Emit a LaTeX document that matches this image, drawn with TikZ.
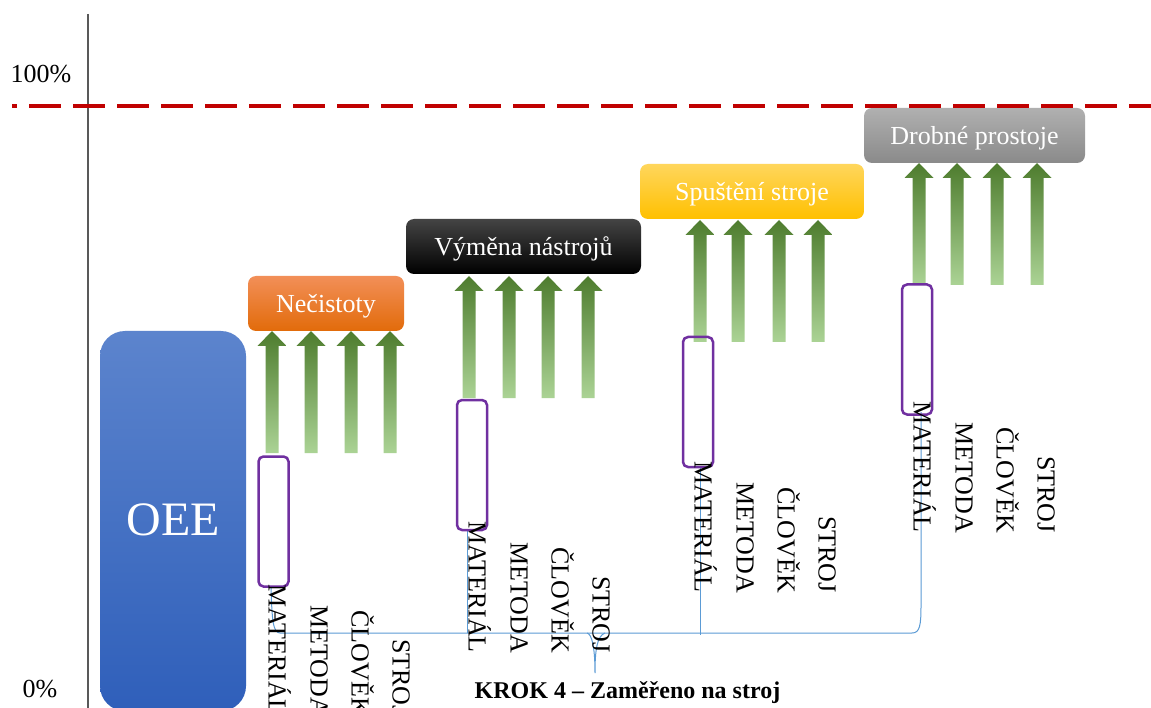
\documentclass[tikz,border=0pt]{standalone}
\usepackage{fontspec}
\setmainfont{Liberation Serif}
\definecolor{axisgray}{HTML}{595959}
\definecolor{limitred}{HTML}{C00000}
\definecolor{purp}{HTML}{7030A0}
\definecolor{linkblue}{HTML}{5B9BD5}
\definecolor{gdark}{HTML}{4E7C2E}
\definecolor{gmid}{HTML}{76AE4B}
\definecolor{glight}{HTML}{ABD395}
\definecolor{oeetop}{HTML}{5C84CD}
\definecolor{oeebot}{HTML}{2F5FBA}
\definecolor{orgtop}{HTML}{F28F58}
\definecolor{orgbot}{HTML}{E26B0A}
\definecolor{blktop}{HTML}{444444}
\definecolor{yeltop}{HTML}{FFD65C}
\definecolor{yelbot}{HTML}{FFC000}
\definecolor{grytop}{HTML}{B0B0B0}
\definecolor{grybot}{HTML}{8A8A8A}
\begin{document}
\begin{tikzpicture}[x=1pt,y=-1pt,
  lbl/.style={font=\fontsize{26}{30}\selectfont, inner sep=0pt},
  catbox/.style={rounded corners=8pt, minimum height=55pt, inner sep=0pt, text=white,
    font=\fontsize{26}{30}\selectfont, text height=25pt, text depth=6pt},
  vlab/.style={rotate=-90, anchor=east, inner sep=0pt, font=\fontsize{26}{30}\selectfont,
    text height=17pt, text depth=0pt},
  focus/.style={draw=purp, line width=2.5pt, rounded corners=5pt, minimum width=30pt,
    minimum height=130pt, inner sep=0pt},
  link/.style={draw=linkblue, line width=1pt},
  axisline/.style={draw=axisgray, line width=1.5pt},
  limitline/.style={draw=limitred, line width=4pt, dash pattern=on 32pt off 12pt, dash phase=27pt},
  upshaft/.pic={\shade[top color=gdark, middle color=gmid, bottom color=glight]
    (0,0) -- (14.5,15) -- (6.5,15) -- (6.5,122) -- (-6.5,122) -- (-6.5,15) -- (-14.5,15) -- cycle;}
]
\fill[white] (0,0) rectangle (1151,708);
\useasboundingbox (0,0) rectangle (1151,708);

% axis and 100% line
\coordinate (axtop) at (88,14);
\coordinate (axbot) at (88,710);
\draw[axisline] (axtop) -- (axbot);
\node[lbl, anchor=base] (p100) at (41,83) {100\%};
\node[lbl, anchor=base] (p0) at (40,697) {0\%};

% OEE column
\node[rounded corners=25pt, minimum width=146pt, minimum height=380pt, inner sep=0pt,
  top color=oeetop, bottom color=oeebot, text=white, font=\fontsize{48}{52}\selectfont,
  text height=28pt, text depth=0pt] (oee) at (173,521) {OEE};

% blue connector line
\coordinate (l1) at (271,588);
\coordinate (l2) at (921,412);
\coordinate (v2a) at (467,531);
\coordinate (v2b) at (467,633);
\coordinate (v3a) at (700,467);
\coordinate (v3b) at (700,635);
\coordinate (sp1) at (587,633);
\coordinate (sp2) at (595,673);
\coordinate (sp3) at (605,633);
\draw[link] (l1) .. controls (272,620) and (273,633) .. (280,633) -- (912,633)
  .. controls (920,633) and (921,625) .. (921,605) -- (l2);
\draw[link] (v2a) -- (v2b);
\draw[link] (v3a) -- (v3b);
\draw[link] (sp1) .. controls (592,634) and (595,648) .. (sp2) .. controls (595,650) and (597,636) .. (sp3);

% arrows
\foreach \x in {272,311,351,390} \pic at (\x,331) {upshaft};
\foreach \x in {469,509,548,588} \pic at (\x,276) {upshaft};
\foreach \x in {700,738,779,818} \pic at (\x,220) {upshaft};
\foreach \x in {919,957,997,1037} \pic at (\x,163) {upshaft};

% category boxes
\node[catbox, minimum width=156pt, top color=orgtop, bottom color=orgbot] (b1) at (326,303.5) {Nečistoty};
\node[catbox, minimum width=235pt, top color=blktop, middle color=black, bottom color=black] (b2) at (523.5,246.5) {Výměna nástrojů};
\node[catbox, minimum width=224pt, top color=yeltop, bottom color=yelbot] (b3) at (752,191.5) {Spuštění stroje};
\node[catbox, minimum width=221pt, top color=grytop, bottom color=grybot] (b4) at (974.5,135.5) {Drobné prostoje};

% focus boxes
\node[focus] (f1) at (273.5,521.5) {};
\node[focus] (f2) at (472,465) {};
\node[focus] (f3) at (698,402) {};
\node[focus] (f4) at (917,349.5) {};

% vertical labels
\foreach \g/\bx/\by in {1/277/716, 2/477/653, 3/703/593, 4/922/533} {
  \node[vlab] (m\g) at (\bx,\by) {MATERIÁL};
  \node[vlab] (d\g) at (\bx+42,\by) {METODA};
  \node[vlab] (c\g) at (\bx+83,\by) {ČLOVĚK};
  \node[vlab] (s\g) at (\bx+124,\by) {STROJ};
}

% limit line
\coordinate (lim0) at (12,106);
\coordinate (lim1) at (1151,106);
\draw[limitline] (lim0) -- (lim1);

% caption
\node[font=\fontsize{24}{28}\selectfont\bfseries, anchor=base, inner sep=0pt] (cap) at (627.5,698) {KROK 4 -- Zaměřeno na stroj};
\end{tikzpicture}
\end{document}
